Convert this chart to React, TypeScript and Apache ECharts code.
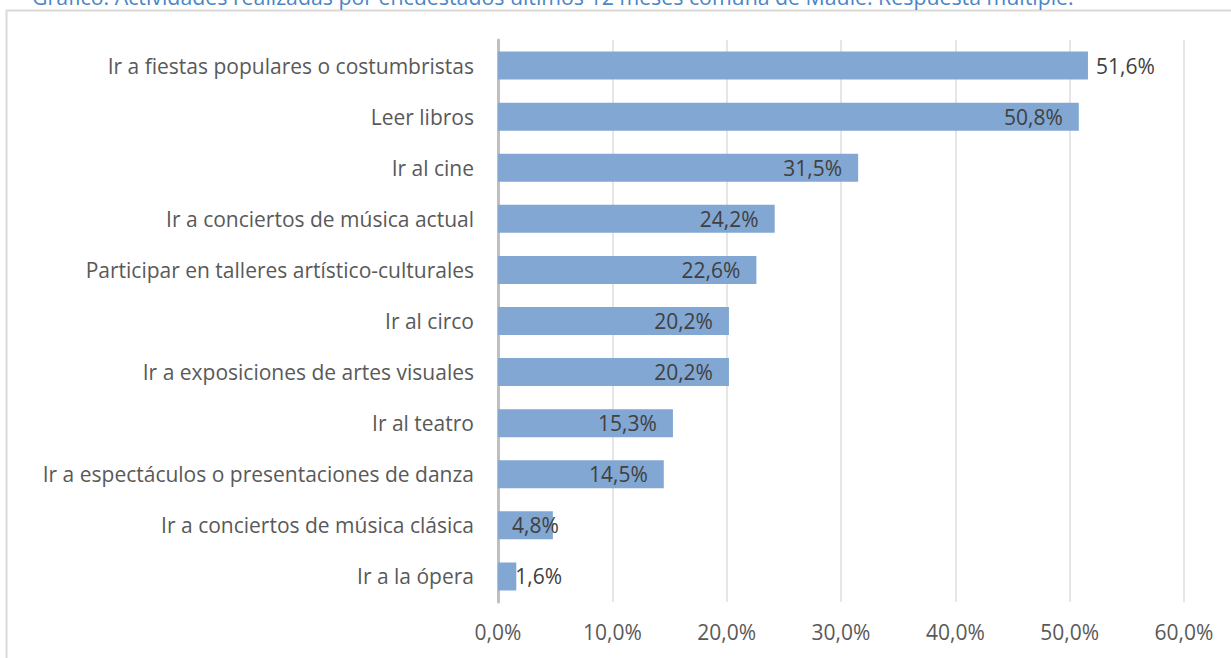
import React, { useEffect, useRef } from "react";
import * as echarts from "echarts";

const categories = [
  "Ir a fiestas populares o costumbristas",
  "Leer libros",
  "Ir al cine",
  "Ir a conciertos de música actual",
  "Participar en talleres artístico-culturales",
  "Ir al circo",
  "Ir a exposiciones de artes visuales",
  "Ir al teatro",
  "Ir a espectáculos o presentaciones de danza",
  "Ir a conciertos de música clásica",
  "Ir a la ópera",
];
const values = [51.6, 50.8, 31.5, 24.2, 22.6, 20.2, 20.2, 15.3, 14.5, 4.8, 1.6];
const titleText =
  "Gráfico: Actividades realizadas por encuestados últimos 12 meses comuna de Maule. Respuesta múltiple.";

const FONT = "Open Sans";

export default function App() {
  const ref = useRef<HTMLDivElement>(null);
  useEffect(() => {
    if (!ref.current) return;
    const chart = echarts.init(ref.current, undefined, { renderer: "svg" });
    const fmt = (v: number) => v.toFixed(1).replace(".", ",") + "%";
    const data = values.map((v, i) => {
      let label: any = { position: "insideRight", distance: 16 };
      if (i === 0) label = { position: "right", distance: 8 };
      if (v < 5 && v > 3) label = { position: "insideLeft", distance: 14 };
      if (v <= 3) label = { position: "right", distance: -1 };
      return { value: v, label };
    });
    chart.setOption({
      animation: false,
      grid: { left: 498, right: 47, top: 40, bottom: 56, containLabel: false },
      graphic: [
        {
          type: "rect",
          shape: { x: 6.5, y: 10.5, width: 1300, height: 700 },
          style: { fill: "none", stroke: "#D9D9D9", lineWidth: 2 },
          silent: true,
        },
        {
          type: "text",
          x: 32,
          y: 7,
          style: {
            text: titleText,
            font: `21.3px ${FONT}`,
            fill: "#4A86C8",
            verticalAlign: "bottom",
          },
        },
      ],
      xAxis: {
        type: "value",
        min: 0,
        max: 60,
        interval: 10,
        axisLine: { show: false },
        axisTick: { show: false },
        splitLine: { show: true, lineStyle: { color: "#E6E6E6", width: 2 } },
        axisLabel: {
          formatter: (v: number) => fmt(v),
          color: "#595959",
          fontSize: 21,
          fontFamily: FONT,
          margin: 19,
        },
      },
      yAxis: {
        type: "category",
        inverse: true,
        data: categories,
        axisLine: { show: true, lineStyle: { color: "#BFBFBF", width: 3 } },
        axisTick: { show: false },
        axisLabel: {
          color: "#595959",
          fontSize: 21,
          fontFamily: FONT,
          margin: 24,
        },
      },
      series: [
        {
          type: "bar",
          data,
          barWidth: 28,
          itemStyle: { color: "#82A7D3" },
          label: {
            show: true,
            formatter: (p: any) => fmt(p.value),
            color: "#404040",
            fontSize: 21,
            fontFamily: FONT,
          },
        },
      ],
    });
    return () => chart.dispose();
  }, []);
  return (
    <div
      ref={ref}
      style={{ position: "fixed", left: 0, top: 0, width: 1231, height: 658, background: "#fff" }}
    />
  );
}
